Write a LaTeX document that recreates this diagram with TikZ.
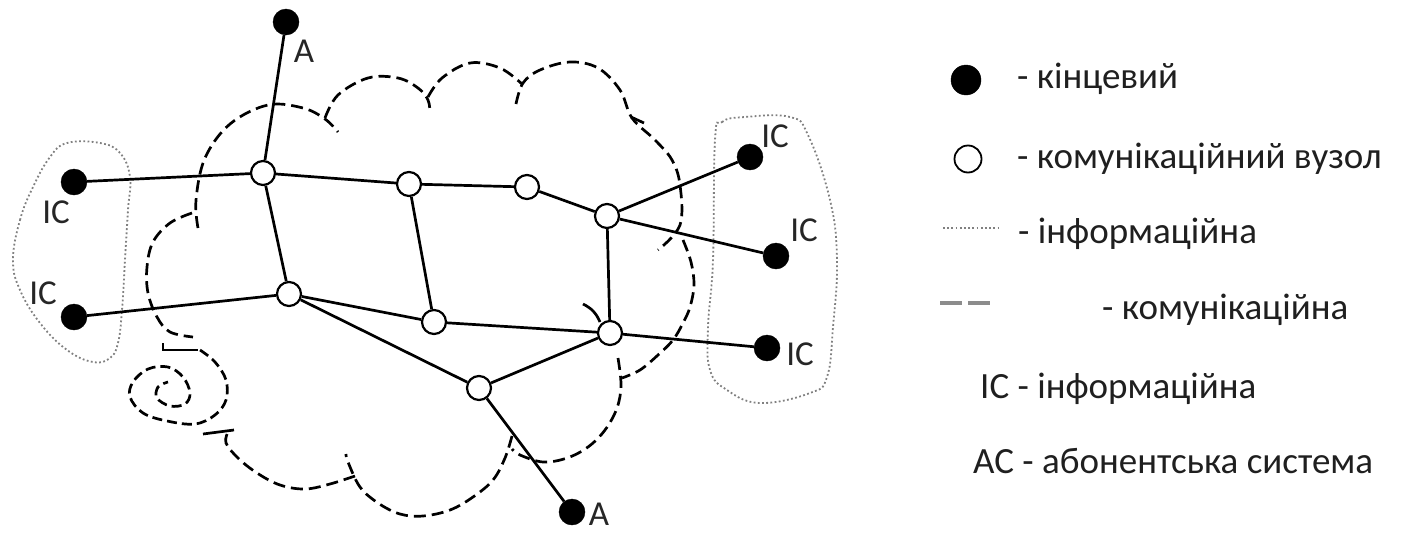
\documentclass[tikz,border=0pt]{standalone}
\usepackage{fontspec}
\setmainfont{Carlito}
\begin{document}
\begin{tikzpicture}[x=1pt,y=-1pt,
  term/.style={circle,fill=black,draw=black,minimum size=26pt,inner sep=0pt},
  comm/.style={circle,fill=white,draw=black,line width=2.2pt,minimum size=24pt,inner sep=0pt},
  link/.style={line width=2.7pt,black},
  cloud/.style={line width=2.7pt,dash pattern=on 12pt off 6pt},
  tick/.style={line width=2.7pt},
  info/.style={line width=1.8pt,black!50,dash pattern=on 1.8pt off 2.4pt},
  lbl/.style={inner sep=0pt,text=black!85,font=\fontsize{35}{40}\selectfont},
  leg/.style={inner sep=0pt,anchor=base west,text=black!88,font=\fontsize{37}{42}\selectfont}]
\useasboundingbox (0,0) rectangle (1423,533);

% information regions (dotted)
\draw[info] plot[smooth cycle,tension=0.7] coordinates {(13,260) (20,220) (33,187) (50,157) (67,143) (100,143) (120,153) (130,177) (128,210) (125,260) (122,310) (118,343) (110,358) (93,362) (67,350) (40,323) (20,290)};
\draw[info] plot[smooth cycle,tension=0.7] coordinates {(715,140) (722,122) (745,117) (790,117) (808,135) (830,200) (837,260) (833,327) (827,377) (810,393) (760,403) (727,390) (710,370) (708,327) (713,260)};

% communication cloud (dashed)
\draw[cloud] plot[smooth,tension=0.6] coordinates {(198,228) (196,200) (205,158) (230,124) (268,105) (303,108) (325,119) (338,132)};
\draw[cloud] plot[smooth,tension=0.6] coordinates {(325,118) (338,95) (368,78) (398,78) (418,88) (428,100) (430,113)};
\draw[cloud] plot[smooth,tension=0.6] coordinates {(428,97) (442,78) (470,63) (500,68) (522,84)};
\draw[cloud] plot[smooth,tension=0.6] coordinates {(516,104) (523,83) (540,70) (570,62) (598,68) (620,90) (632,118) (655,140) (672,160) (680,185) (680,225) (658,250)};
\draw[tick] (631,117) -- (644,123);
\draw[cloud] plot[smooth,tension=0.6] coordinates {(683,240) (691,262) (694,285) (690,307) (683,323) (673,340) (658,355) (640,370) (622,378)};
\draw[cloud] plot[smooth,tension=0.6] coordinates {(618,358) (621,385) (617,408) (605,430) (588,447) (567,458) (543,462) (520,455) (512,449)};
\draw[cloud] plot[smooth,tension=0.6] coordinates {(512,436) (505,458) (493,480) (473,497) (450,510) (423,516) (400,514) (378,503) (360,487) (348,462) (346,454)};
\draw[cloud] plot[smooth,tension=0.6] coordinates {(355,476) (330,484) (305,489) (280,485) (257,473) (238,458) (226,443) (228,432)};
\draw[tick] (203,434) -- (234,430);
\draw[cloud] plot[smooth,tension=0.6] coordinates {(192,213) (170,223) (153,242) (147,267) (148,293) (157,317) (170,332) (193,337)};
\draw[tick] (163,343) -- (163,350) -- (198,350);
\draw[cloud,dash pattern=on 10pt off 5pt] plot[smooth,tension=0.6] coordinates {(200,350) (215,362) (226,380) (226,400) (215,415) (195,424) (167,421) (143,413) (130,397) (133,382) (148,369) (168,367) (183,377) (190,393) (185,404) (170,406) (157,398) (158,387) (168,382)};
\draw[tick] (583,304) to[bend left=20] (600,322);

% terminal nodes
\node[term] (at) at (286,22) {};
\node[term] (icl1) at (74,182) {};
\node[term] (icl2) at (74,317) {};
\node[term] (icr1) at (750,157) {};
\node[term] (icr2) at (776,256) {};
\node[term] (icr3) at (767,348) {};
\node[term] (ab) at (572,512) {};

% communication nodes
\node[comm] (n1) at (263,173) {};
\node[comm] (n2) at (409,184) {};
\node[comm] (n3) at (527,187) {};
\node[comm] (n4) at (607,216) {};
\node[comm] (n5) at (289,294) {};
\node[comm] (n6) at (434,322) {};
\node[comm] (n7) at (610,333) {};
\node[comm] (n8) at (479,388) {};

% links
\draw[link] (at) -- (n1);
\draw[link] (icl1) -- (n1);
\draw[link] (n1) -- (n2);
\draw[link] (n2) -- (n3);
\draw[link] (n3) -- (n4);
\draw[link] (n1) -- (n5);
\draw[link] (n2) -- (n6);
\draw[link] (n4) -- (icr1);
\draw[link] (n4) -- (icr2);
\draw[link] (n4) -- (n7);
\draw[link] (icl2) -- (n5);
\draw[link] (n5) -- (n6);
\draw[link] (n6) -- (n7);
\draw[link] (n5) -- (n8);
\draw[link] (n8) -- (n7);
\draw[link] (n7) -- (icr3);
\draw[link] (n8) -- (ab);

% labels
\node[lbl] (lat) at (304,51) {A};
\node[lbl] (licl1) at (56,212) {IC};
\node[lbl] (licl2) at (43,293) {IC};
\node[lbl] (licr1) at (775,136) {IC};
\node[lbl] (licr2) at (804,230) {IC};
\node[lbl] (licr3) at (800,354) {IC};
\node[lbl] (lab) at (599,514) {A};

% legend
\node[term,minimum size=30pt] (kterm) at (966,80) {};
\node[comm,minimum size=27pt,line width=1.8pt] (kcomm) at (968,159) {};
\coordinate (kd1) at (943,228); \coordinate (kd2) at (1000,228);
\draw[info] (kd1) -- (kd2);
\coordinate (kc1) at (940,303); \coordinate (kc2) at (990,303);
\draw[line width=4pt,black!45,dash pattern=on 22pt off 6pt] (kc1) -- (kc2);
\node[leg] (t1) at (1017,88) {- кінцевий};
\node[leg] (t2) at (1017,168) {- комунікаційний вузол};
\node[leg] (t3) at (1018,243) {- інформаційна};
\node[leg] (t4) at (1102,319) {- комунікаційна};
\node[leg] (t5) at (980,398) {IC - інформаційна};
\node[leg] (t6) at (973,473) {AC - абонентська система};
\end{tikzpicture}
\end{document}
